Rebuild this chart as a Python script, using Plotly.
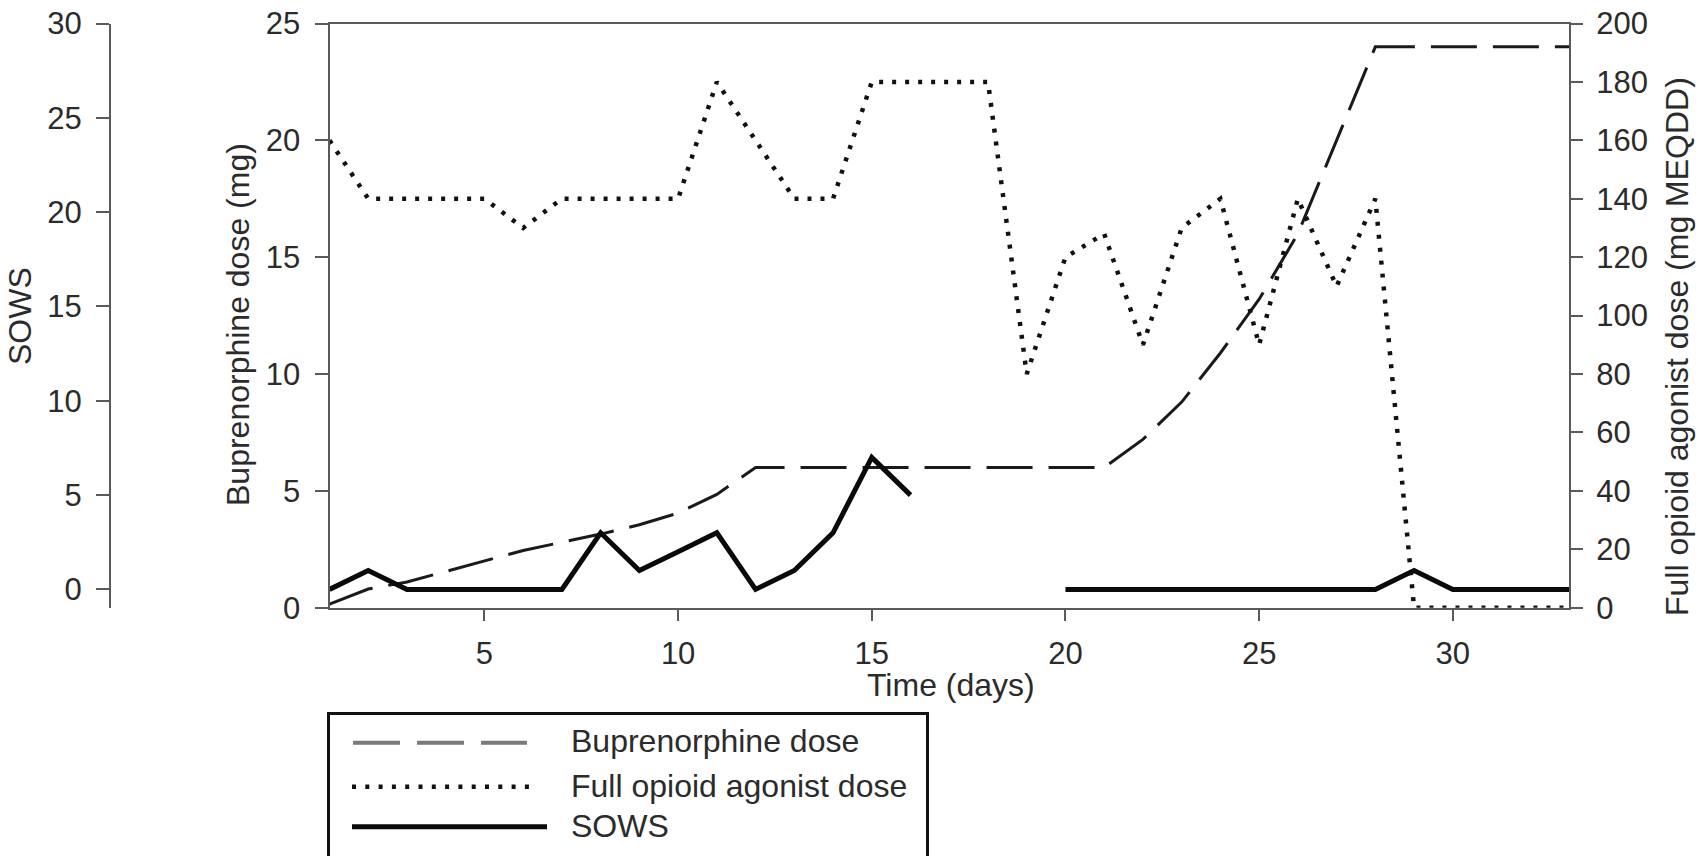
import plotly.graph_objects as go

# ---------------- data ----------------
days = list(range(1, 34))

buprenorphine_mg = [0.15, 0.8, 1.1, 1.55, 2.0, 2.45, 2.8, 3.15, 3.55, 4.05, 4.85, 6, 6, 6, 6,
                    6, 6, 6, 6, 6, 6, 7.2, 8.8, 10.9, 13.2, 16, 20, 24, 24, 24, 24, 24, 24]

full_agonist_meqdd = [160, 140, 140, 140, 140, 130, 140, 140, 140, 140, 180, 160, 140, 140, 180,
                      180, 180, 180, 80, 120, 128, 90, 130, 140, 90, 140, 110, 140, 0, 0, 0, 0, 0]

sows = [0, 1, 0, 0, 0, 0, 0, 3, 1, 2, 3, 0, 1, 3, 7, 5, None, None, None,
        0, 0, 0, 0, 0, 0, 0, 0, 0, 1, 0, 0, 0, 0]

x_ticks = [5, 10, 15, 20, 25, 30]
bup_ticks = [0, 5, 10, 15, 20, 25]
agonist_ticks = list(range(0, 201, 20))
sows_ticks = [0, 5, 10, 15, 20, 25, 30]

legend_labels = ["Buprenorphine dose", "Full opioid agonist dose", "SOWS"]

# ---------------- layout geometry (pixels) ----------------
W, H = 1708, 856
PL, PR, PT, PB = 329.5, 1569.0, 23.5, 607.7
FONT = "Liberation Sans, Arial, Helvetica, sans-serif"
TXT = "#2b2b2b"
AX = "#5a5a5a"


def px(x):
    return x / W


def py(y):
    return 1 - y / H


fig = go.Figure()

fig.add_trace(go.Scatter(x=days, y=buprenorphine_mg, mode="lines", name=legend_labels[0],
                         line=dict(color="#1a1a1a", width=3, dash="46px,16px"),
                         yaxis="y", showlegend=False))
fig.add_trace(go.Scatter(x=days, y=full_agonist_meqdd, mode="lines", name=legend_labels[1],
                         line=dict(color="#111111", width=4.5, dash="4px,9px"),
                         yaxis="y2", showlegend=False))
fig.add_trace(go.Scatter(x=days, y=sows, mode="lines", name=legend_labels[2],
                         line=dict(color="#0a0a0a", width=5), connectgaps=False,
                         yaxis="y3", showlegend=False))

tickfont = dict(family=FONT, size=31, color=TXT)
ydom = [py(PB), py(PT)]

fig.update_layout(
    width=W, height=H,
    margin=dict(l=0, r=0, t=0, b=0, autoexpand=False),
    paper_bgcolor="white", plot_bgcolor="white",
    font=dict(family=FONT, color=TXT),
    showlegend=False,
    xaxis=dict(domain=[px(PL), px(PR)], range=[1, 33], tickvals=x_ticks,
               showgrid=False, zeroline=False, showline=True, mirror=True,
               linecolor=AX, linewidth=2, ticks="outside", ticklen=11,
               tickwidth=2, tickcolor=AX, tickfont=tickfont,
               ticklabelstandoff=6, anchor="y"),
    yaxis=dict(domain=ydom, range=[0, 25], tickvals=bup_ticks,
               showgrid=False, zeroline=False, showline=True, linecolor=AX,
               linewidth=2, ticks="outside", ticklen=13, tickwidth=2,
               tickcolor=AX, tickfont=tickfont, ticklabelstandoff=8, anchor="x"),
    yaxis2=dict(domain=ydom, range=[0, 200], tickvals=agonist_ticks, overlaying="y",
                side="right", showgrid=False, zeroline=False, showline=True,
                linecolor=AX, linewidth=2, ticks="outside", ticklen=12, tickwidth=2,
                tickcolor=AX, tickfont=tickfont, ticklabelstandoff=7, anchor="x"),
    yaxis3=dict(domain=ydom, range=[-0.97, 30], tickvals=sows_ticks, overlaying="y",
                anchor="free", position=px(110), side="left", showgrid=False,
                zeroline=False, showline=True, linecolor=AX, linewidth=2,
                ticks="outside", ticklen=13, tickwidth=2, tickcolor=AX,
                tickfont=tickfont, ticklabelstandoff=8),
)

# ---------------- axis titles ----------------
title_font = dict(family=FONT, size=32, color=TXT)
titles = [
    ("SOWS", 20, 316, -90),
    ("Buprenorphine dose (mg)", 238, 324, -90),
    ("Full opioid agonist dose (mg MEQDD)", 1677, 347, -90),
    ("Time (days)", 951, 685, 0),
]
for text, x, y, ang in titles:
    fig.add_annotation(text=text, x=px(x), y=py(y), xref="paper", yref="paper",
                       showarrow=False, textangle=ang, font=title_font,
                       xanchor="center", yanchor="middle")

# ---------------- legend box (drawn) ----------------
fig.add_shape(type="rect", xref="paper", yref="paper",
              x0=px(328.5), x1=px(927.5), y0=py(713.5), y1=py(900),
              line=dict(color="#111111", width=3), fillcolor="rgba(0,0,0,0)")
samples = [
    (742.7, 353, 527, dict(color="#7a7a7a", width=4, dash="47px,17px")),
    (786.7, 352, 538, dict(color="#111111", width=4.5, dash="4px,9.3px")),
    (826.7, 352, 547, dict(color="#0a0a0a", width=5)),
]
for (y, x0, x1, ln) in samples:
    fig.add_shape(type="line", xref="paper", yref="paper", x0=px(x0), x1=px(x1),
                  y0=py(y), y1=py(y), line=ln)
for label, y in zip(legend_labels, [741, 786, 826]):
    fig.add_annotation(text=label, x=px(569), y=py(y), xref="paper", yref="paper",
                       showarrow=False, xanchor="left", yanchor="middle",
                       font=dict(family=FONT, size=32, color=TXT))

fig.write_html("out.html")
